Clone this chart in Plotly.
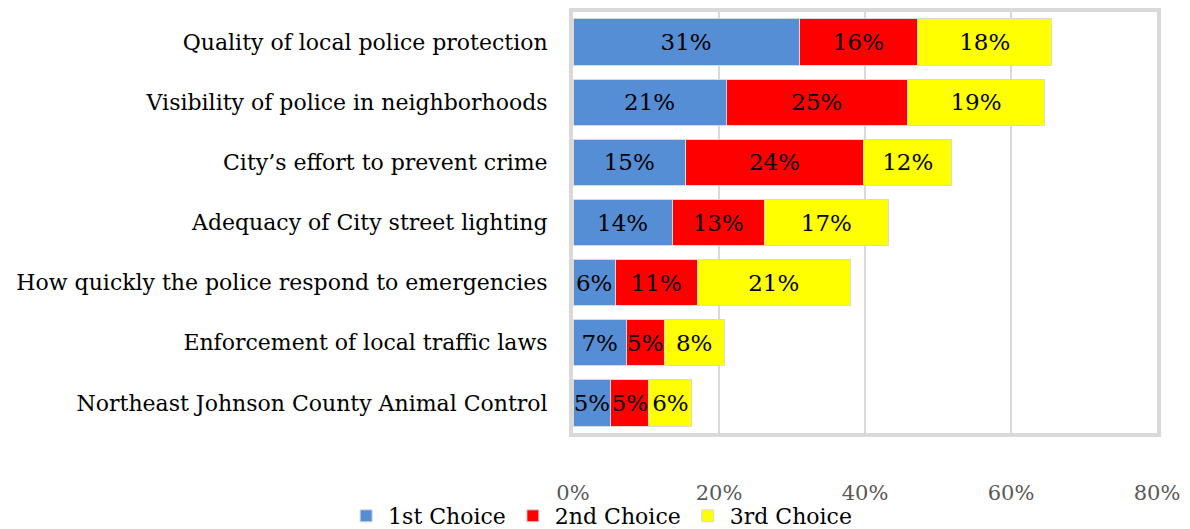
import plotly.graph_objects as go

categories = [
    "Quality of local police protection",
    "Visibility of police in neighborhoods",
    "City\u2019s effort to prevent crime",
    "Adequacy of City street lighting",
    "How quickly the police respond to emergencies",
    "Enforcement of local traffic laws",
    "Northeast Johnson County Animal Control",
]
first_choice = [31.0, 21.0, 15.4, 13.6, 5.8, 7.3, 5.2]
second_choice = [16.2, 24.8, 24.4, 12.6, 11.2, 5.2, 5.2]
third_choice = [18.4, 18.8, 12.1, 17.0, 21.0, 8.2, 5.9]

series = [
    ("1st Choice", first_choice, "#558ED5"),
    ("2nd Choice", second_choice, "#FF0000"),
    ("3rd Choice", third_choice, "#FFFF00"),
]

FONT = "DejaVu Serif"

fig = go.Figure()
for name, vals, color in series:
    fig.add_trace(go.Bar(
        y=categories,
        x=vals,
        name=name,
        orientation='h',
        marker=dict(color=color, line=dict(color='#d9d9d9', width=1)),
        texttemplate='%{x:.0f}%',
        textposition='inside',
        insidetextanchor='middle',
        textangle=0,
        constraintext='none',
        textfont=dict(family=FONT, size=23, color='black'),
        hoverinfo='skip',
    ))

# the page adds an 8px body margin, so the figure is offset by 8px
fig.update_layout(
    barmode='stack',
    bargap=0.23,
    width=1190,
    height=529,
    margin=dict(l=565, r=41, t=4, b=104, pad=0, autoexpand=False),
    plot_bgcolor='white',
    paper_bgcolor='white',
    font=dict(family=FONT, size=22, color='black'),
    showlegend=True,
    legend=dict(
        orientation='h',
        xref='container', yref='container',
        x=0.498, xanchor='center',
        y=0.0, yanchor='bottom',
        bgcolor='rgba(0,0,0,0)',
        font=dict(family=FONT, size=22, color='black'),
        traceorder='normal',
        itemwidth=34,
    ),
    xaxis=dict(
        range=[0, 80],
        dtick=20,
        ticksuffix='%',
        showgrid=True,
        gridcolor='#d9d9d9',
        gridwidth=2,
        zeroline=False,
        showline=True,
        linecolor='#d9d9d9',
        linewidth=4,
        mirror=True,
        automargin=False,
        tickfont=dict(family=FONT, size=21, color='#595959'),
        ticklabelstandoff=38,
    ),
    yaxis=dict(
        autorange='reversed',
        showline=True,
        linecolor='#d9d9d9',
        linewidth=4,
        mirror=True,
        automargin=False,
        tickfont=dict(family=FONT, size=22, color='black'),
        ticklabelstandoff=17,
    ),
)

fig.write_html("out.html")
